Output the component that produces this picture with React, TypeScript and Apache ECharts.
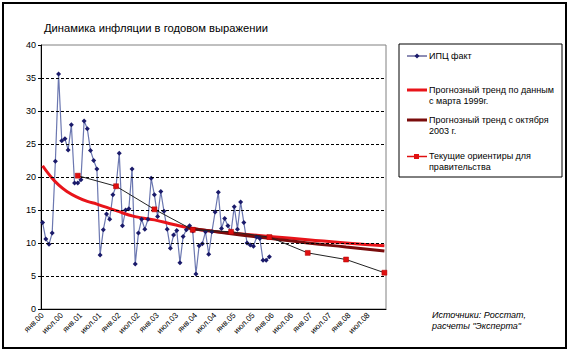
import React, { useEffect, useRef } from "react";
import * as echarts from "echarts";

const monthNames = ["янв", "фев", "мар", "апр", "май", "июн", "июл", "авг", "сен", "окт", "ноя", "дек"];
const years = ["00", "01", "02", "03", "04", "05", "06", "07", "08"];

// ИПЦ факт, monthly from янв.00 to дек.05
const cpiFact = [
  13.1, 10.6, 9.8, 11.5, 22.4, 35.6, 25.5, 25.8, 24.1, 27.9, 19.1, 19.1,
  19.6, 28.5, 27.3, 24.0, 22.5, 21.2, 8.2, 12.0, 14.4, 13.6, 17.3, 18.6,
  23.6, 12.6, 15.0, 15.2, 21.2, 6.8, 11.5, 13.6, 12.1, 13.6, 19.8, 17.3,
  14.0, 17.8, 14.8, 12.1, 9.2, 11.2, 11.9, 7.0, 11.0, 12.0, 12.6, 11.8,
  5.3, 9.6, 9.9, 11.7, 8.3, 11.7, 14.7, 17.7, 12.2, 13.7, 12.6, 11.7,
  15.5, 12.1, 16.2, 13.1, 10.0, 9.7, 9.5, 10.9, 10.7, 7.4, 7.4, 7.9,
];

// Прогнозный тренд по данным с марта 1999г. [month index, value]
const trend1999 = [
  [0, 21.7], [2, 20.4], [5, 18.8], [8, 17.7], [11, 16.9], [14, 16.3], [17, 15.9],
  [23, 14.9], [29, 14.0], [35, 13.5], [41, 12.8], [47, 12.2], [53, 11.8], [59, 11.5],
  [71, 11.0], [83, 10.5], [95, 10.0], [107, 9.6],
];

// Прогнозный тренд с октября 2003 г.
const trend2003 = [
  [45, 12.3], [59, 11.4], [71, 10.7], [83, 10.0], [95, 9.4], [107, 8.8],
];

// Текущие ориентиры для правительства
const targets = [
  [11, 20.2], [23, 18.6], [35, 15.1], [47, 12.0], [59, 11.7], [71, 10.9],
  [83, 8.5], [95, 7.5], [107, 5.5],
];

const gridValues = [5, 10, 15, 20, 25, 30, 35];

const FONT = "'Liberation Sans', Arial, sans-serif";

export default function App() {
  const ref = useRef<HTMLDivElement>(null);
  useEffect(() => {
    if (!ref.current) return;
    const chart = echarts.init(ref.current, null, { renderer: "svg" });
    const categories: string[] = [];
    years.forEach((y) => monthNames.forEach((m) => categories.push(m + "." + y)));

    const legendX = 405;
    const legendText = (x: number, y: number, t: string) => ({
      type: "text",
      left: x,
      top: y - 5,
      style: { text: t, font: `9px ${FONT}`, fill: "#000" },
    });

    chart.setOption({
      animation: false,
      backgroundColor: "#fff",
      grid: {
        left: 41,
        top: 45,
        width: 345,
        height: 264,
        show: true,
        borderColor: "#808080",
        borderWidth: 1,
        backgroundColor: "transparent",
      },
      xAxis: {
        type: "category",
        data: categories,
        boundaryGap: true,
        axisLine: { lineStyle: { color: "#000", width: 1 } },
        axisTick: { interval: 5, length: 3, lineStyle: { color: "#000" } },
        axisLabel: {
          interval: 5,
          rotate: 45,
          fontSize: 8,
          fontFamily: FONT,
          color: "#000",
          margin: 5,
        },
        splitLine: { show: false },
      },
      yAxis: {
        type: "value",
        min: 0,
        max: 40,
        interval: 5,
        axisLine: { show: true, lineStyle: { color: "#000", width: 1 } },
        axisTick: { show: true, length: 3, lineStyle: { color: "#000" } },
        axisLabel: { fontSize: 9, fontFamily: FONT, color: "#000", margin: 5 },
        splitLine: { show: false },
      },
      series: [
        {
          name: "ИПЦ факт",
          type: "line",
          data: cpiFact,
          symbol: "diamond",
          symbolSize: 5,
          showAllSymbol: true,
          itemStyle: { color: "#1a1a6a" },
          lineStyle: { color: "#6b77b0", width: 1.2 },
          markLine: {
            silent: true,
            symbol: "none",
            label: { show: false },
            lineStyle: { color: "#000", width: 1, type: [3, 2] },
            data: gridValues.map((v) => ({ yAxis: v })),
          },
        },
        {
          name: "Прогнозный тренд по данным с марта 1999г.",
          type: "line",
          data: trend1999,
          smooth: true,
          showSymbol: false,
          symbol: "none",
          lineStyle: { color: "#e8141a", width: 3 },
        },
        {
          name: "Прогнозный тренд с октября 2003 г.",
          type: "line",
          data: trend2003,
          smooth: true,
          showSymbol: false,
          symbol: "none",
          lineStyle: { color: "#7a0c0c", width: 3 },
        },
        {
          name: "Текущие ориентиры для правительства",
          type: "line",
          data: targets,
          symbol: "rect",
          symbolSize: 5,
          showSymbol: true,
          showAllSymbol: true,
          itemStyle: { color: "#e01010", borderColor: "#b00000", borderWidth: 0.5 },
          lineStyle: { color: "#222", width: 1 },
          z: 5,
        },
      ],
      graphic: [
        {
          type: "rect",
          shape: { x: 3, y: 3, width: 563, height: 345 },
          style: { fill: "none", stroke: "#000", lineWidth: 2 },
          silent: true,
        },
        {
          type: "text",
          left: 44,
          top: 22,
          style: { text: "Динамика инфляции в годовом выражении", font: `11.2px ${FONT}`, fill: "#000" },
        },
        {
          type: "rect",
          shape: { x: 399, y: 44, width: 163, height: 133 },
          style: { fill: "#fff", stroke: "#000", lineWidth: 1 },
        },
        { type: "line", shape: { x1: legendX + 2, y1: 56, x2: legendX + 22, y2: 56 }, style: { stroke: "#1a1a6a", lineWidth: 1 } },
        { type: "polygon", shape: { points: [[417, 53.5], [419.5, 56], [417, 58.5], [414.5, 56]] }, style: { fill: "#1a1a6a" } },
        legendText(429, 56, "ИПЦ факт"),
        { type: "line", shape: { x1: legendX + 2, y1: 90, x2: legendX + 22, y2: 90 }, style: { stroke: "#e8141a", lineWidth: 3 } },
        legendText(429, 90, "Прогнозный тренд по данным"),
        legendText(429, 101, "с марта 1999г."),
        { type: "line", shape: { x1: legendX + 2, y1: 120, x2: legendX + 22, y2: 120 }, style: { stroke: "#7a0c0c", lineWidth: 3 } },
        legendText(429, 120, "Прогнозный тренд с октября"),
        legendText(429, 131, "2003 г."),
        { type: "line", shape: { x1: legendX + 2, y1: 156.5, x2: legendX + 22, y2: 156.5 }, style: { stroke: "#e01010", lineWidth: 1.5 } },
        { type: "rect", shape: { x: 414, y: 154, width: 5, height: 5 }, style: { fill: "#e01010" } },
        legendText(429, 156.5, "Текущие ориентиры для"),
        legendText(429, 167, "правительства"),
        {
          type: "text",
          left: 432,
          top: 310,
          style: { text: "Источники: Росстат,", font: `italic 9px ${FONT}`, fill: "#000" },
        },
        {
          type: "text",
          left: 432,
          top: 321,
          style: { text: "расчеты \"Эксперта\"", font: `italic 9px ${FONT}`, fill: "#000" },
        },
      ],
    });
    return () => chart.dispose();
  }, []);
  return (
    <div
      ref={ref}
      style={{ position: "absolute", left: 0, top: 0, width: 570, height: 352 }}
    />
  );
}
